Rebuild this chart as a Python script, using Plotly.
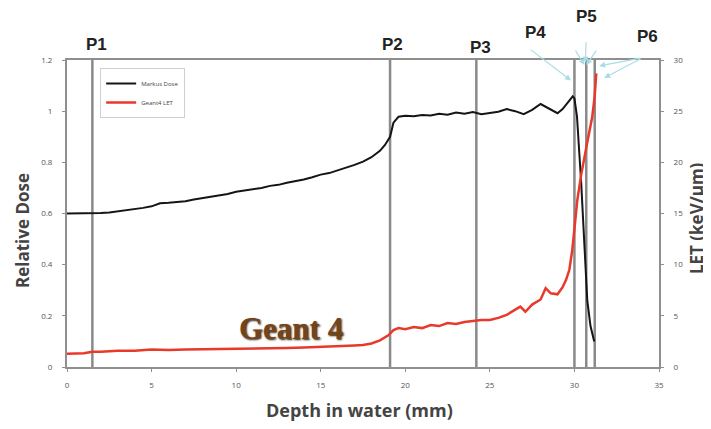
import plotly.graph_objects as go

# ---- data ----
dose_x = [0, 0.5, 1, 1.5, 2, 2.5, 3, 3.5, 4, 4.5, 5, 5.5, 6, 6.5, 7, 7.5, 8, 8.5, 9, 9.5,
          10, 10.5, 11, 11.5, 12, 12.5, 13, 13.5, 14, 14.5, 15, 15.5, 16, 16.5, 17, 17.5,
          18, 18.5, 18.8, 19.1, 19.3, 19.6, 20, 20.5, 21, 21.5, 22, 22.5, 23, 23.5, 24,
          24.5, 25, 25.5, 26, 26.5, 27, 27.5, 28, 28.5, 29, 29.3, 29.6, 29.9, 30.0, 30.15,
          30.4, 30.58, 30.76, 30.95, 31.17]
dose_y = [0.600, 0.600, 0.601, 0.600, 0.602, 0.604, 0.608, 0.612, 0.617, 0.622, 0.628, 0.640,
          0.642, 0.645, 0.648, 0.655, 0.660, 0.664, 0.668, 0.676, 0.685, 0.690, 0.696, 0.700,
          0.708, 0.712, 0.720, 0.726, 0.733, 0.742, 0.752, 0.758, 0.768, 0.778, 0.790, 0.803,
          0.820, 0.845, 0.868, 0.900, 0.955, 0.978, 0.982, 0.980, 0.985, 0.983, 0.990, 0.986,
          0.995, 0.990, 0.997, 0.988, 0.993, 0.998, 1.008, 1.000, 0.988, 1.005, 1.028, 1.010,
          0.992, 1.008, 1.035, 1.058, 1.050, 0.980, 0.720, 0.460, 0.260, 0.160, 0.100]

let_x = [0, 1, 1.5, 2, 3, 4, 5, 6, 7, 8, 9, 10, 11, 12, 13, 14, 15, 16, 17, 17.5, 18, 18.5,
         19, 19.3, 19.6, 20, 20.5, 21, 21.5, 22, 22.5, 23, 23.5, 24, 24.5, 25, 25.5, 26,
         26.5, 26.8, 27.1, 27.5, 28.0, 28.3, 28.6, 29.0, 29.3, 29.5, 29.7, 29.87, 30.0,
         30.17, 30.4, 30.58, 30.8, 31.05, 31.2, 31.29]
let_y = [1.3, 1.35, 1.5, 1.5, 1.6, 1.6, 1.7, 1.65, 1.7, 1.72, 1.7, 1.75, 1.8, 1.78, 1.85, 1.9,
         1.95, 2.0, 2.1, 2.15, 2.3, 2.6, 3.1, 3.6, 3.8, 3.7, 3.9, 3.8, 4.1, 4.0, 4.3, 4.2, 4.4,
         4.5, 4.6, 4.6, 4.8, 5.1, 5.6, 5.9, 5.4, 6.1, 6.6, 7.7, 7.2, 7.1, 7.8, 8.5, 9.5, 11.4,
         13.5, 16.3, 18.8, 20.5, 22.3, 24.4, 26.5, 28.7]

marker_names = ["P1", "P2", "P3", "P4", "P5", "P6"]
marker_depths = [1.5, 19.1, 24.2, 30.0, 30.7, 31.2]

series_names = ["Markus Dose", "Geant4 LET"]

# ---- figure ----
fig = go.Figure()
fig.add_trace(go.Scatter(x=dose_x, y=dose_y, mode="lines", name=series_names[0],
                         line=dict(color="#151515", width=2)))
fig.add_trace(go.Scatter(x=let_x, y=let_y, mode="lines", name=series_names[1],
                         line=dict(color="#e8392b", width=2.5), yaxis="y2"))

for d in marker_depths:
    fig.add_shape(type="line", xref="x", yref="paper", x0=d, x1=d, y0=0, y1=1,
                  line=dict(color="#8a8a8a", width=2.5), layer="below")

# P labels (paper coords)
label_pos = [(0.0506, 1.052), (0.5497, 1.052), (0.698, 1.042), (0.791, 1.088),
             (0.877, 1.143), (0.980, 1.075)]
for name, (px, py) in zip(marker_names, label_pos):
    fig.add_annotation(x=px, y=py, xref="paper", yref="paper", text="<b>" + name + "</b>",
                       showarrow=False,
                       font=dict(family="Liberation Sans", size=17, color="#222222"),
                       xanchor="center", yanchor="middle")

# light blue pointer arrows
arrows = [
    (29.8, 1.12, -42, -32),
    (30.64, 1.19, 1, -22),
    (30.6, 1.18, -10, -16),
    (30.7, 1.18, 11, -16),
    (31.46, 1.177, 43, -8),
    (31.76, 1.13, 38, -20),
]
for x, y, ax, ay in arrows:
    fig.add_annotation(x=x, y=y, xref="x", yref="y", text="", showarrow=True,
                       ax=ax, ay=ay, arrowcolor="#a9dde6", arrowwidth=1.2,
                       arrowhead=2, arrowsize=1)

fig.add_annotation(x=13.22, y=0.149, xref="x", yref="y", text="<b>Geant 4</b>",
                   showarrow=False,
                   font=dict(family="Liberation Serif, DejaVu Serif, serif", size=31,
                             color="#74441a", shadow="1px 1px 2px #2a1a08"))

# axis titles as annotations
title_font = dict(family="Open Sans", size=17, color="#444444")
fig.add_annotation(x=-0.0743, y=0.443, xref="paper", yref="paper",
                   text="<b>Relative Dose</b>", textangle=-90, showarrow=False,
                   font=title_font, xanchor="center", yanchor="middle")
fig.add_annotation(x=1.0625, y=0.485, xref="paper", yref="paper",
                   text="<b>LET (keV/µm)</b>", textangle=-90, showarrow=False,
                   font=title_font, xanchor="center", yanchor="middle")
fig.add_annotation(x=0.494, y=-0.14, xref="paper", yref="paper",
                   text="<b>Depth in water (mm)</b>", showarrow=False,
                   font=dict(family="Open Sans", size=18, color="#444444"),
                   xanchor="center", yanchor="middle")

axis_common = dict(showline=True, linecolor="#8f8f8f", linewidth=2, ticks="outside",
                   tickcolor="#8f8f8f", ticklen=3, tickfont=dict(size=8, color="#555555"),
                   showgrid=False, zeroline=False)

fig.update_layout(
    width=703, height=421,
    margin=dict(l=59, r=52, t=52, b=62),
    paper_bgcolor="white", plot_bgcolor="white",
    font=dict(family="Open Sans"),
    xaxis=dict(range=[0, 35], dtick=5, mirror=True, ticklabelstandoff=6, **axis_common),
    yaxis=dict(range=[0, 1.2], dtick=0.2, ticklabelstandoff=8, **axis_common),
    yaxis2=dict(range=[0, 30], dtick=5, overlaying="y", side="right",
                ticklabelstandoff=8, **axis_common),
    showlegend=True,
    legend=dict(x=0.056, y=0.974, xanchor="left", yanchor="top",
                bgcolor="white", bordercolor="#cfcfcf", borderwidth=1,
                font=dict(size=6, color="#444444"), itemwidth=30, tracegroupgap=0),
)

fig.write_html("out.html")
